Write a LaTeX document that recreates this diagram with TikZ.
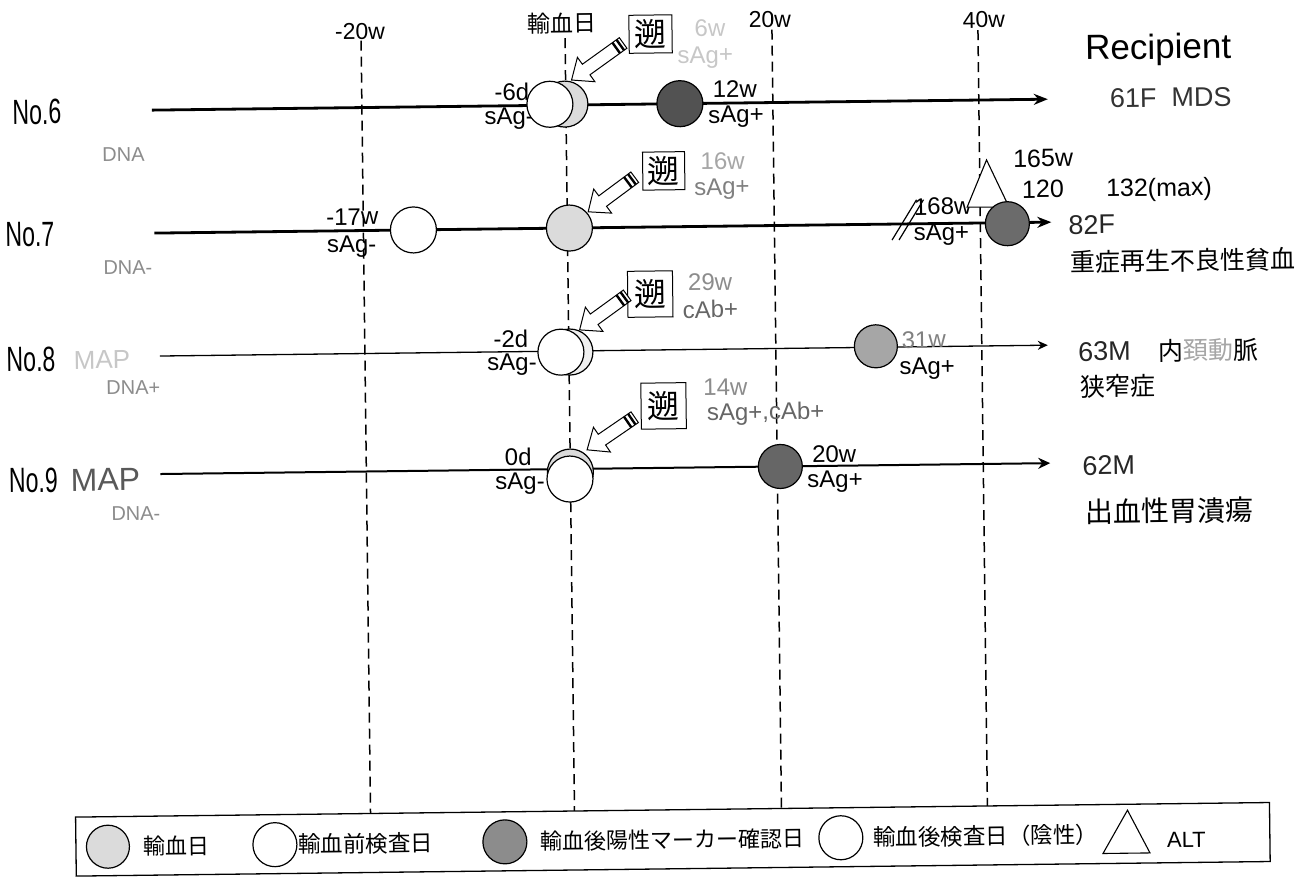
\documentclass[tikz,border=0pt]{standalone}
\usepackage{fontspec}
\usepackage{graphicx}
\setmainfont{Liberation Sans}
\newfontfamily\jp{Noto Sans CJK JP}
\usetikzlibrary{arrows.meta,calc}
\newcommand\fs[1]{\fontsize{#1}{#1}\selectfont}
\begin{document}
\begin{tikzpicture}[x=1pt,y=-1pt,
  vguide/.style={line width=1.5pt, dash pattern=on 10pt off 6pt},
  rowthick/.style={line width=2.8pt, -{Stealth[length=14pt,width=11pt]}},
  rowmid/.style={line width=2pt, -{Stealth[length=12pt,width=11pt]}},
  rowthin/.style={line width=1.3pt, -{Stealth[length=10pt,width=9pt]}},
  dotc/.style={circle, draw, line width=1.2pt, minimum size=46pt, inner sep=0pt},
  tdaycirc/.style={dotc, fill=gray!28},
  precirc/.style={dotc, fill=white},
  poscirc/.style={dotc, fill=black!62},
  lab/.style={inner sep=0pt, font=\fs{24}},
  faintlab/.style={lab, text=black!35},
  dnalab/.style={inner sep=0pt, font=\fs{20}, text=black!45},
  nolab/.style={inner sep=0pt},
  jbox/.style={draw, line width=1pt, inner sep=0pt, font=\jp\fs{32}, fill=white},
  jlab/.style={inner sep=0pt, font=\jp\fs{25}, anchor=west},
  pics/barr/.style={code={
    \draw[line width=1pt, fill=white] (0,-6.5) -- (#1-18,-6.5) -- (#1-18,-15) -- (#1,0)
      -- (#1-18,15) -- (#1-18,6.5) -- (0,6.5) -- cycle;
    \draw[line width=2.4pt] (3.5,-6.5) -- (3.5,6.5) (8.5,-6.5) -- (8.5,6.5);}}
]
\useasboundingbox (0,0) rectangle (1310,879);
\fill[white] (0,0) rectangle (1310,879);
\begin{scope}[rotate around={0.7:(655,440)}, transform shape]

% ---- vertical guides
\coordinate (gA1) at (366,37);  \coordinate (gA2) at (366,810);
\coordinate (gB1) at (570,37);  \coordinate (gB2) at (570,810);
\coordinate (gC1) at (777,15);  \coordinate (gC2) at (777,810);
\coordinate (gD1) at (983,34);  \coordinate (gD2) at (983,810);
\draw[vguide] (gA1) -- (gA2);
\draw[vguide] (gB1) -- (gB2);
\draw[vguide] (gC1) -- (gC2);
\draw[vguide] (gD1) -- (gD2);

\node[lab, font=\fs{23}] (tm20) at (365,28) {-20w};
\node[lab, font=\jp\fs{23}] (tday) at (567,22) {輸血日};
\node[lab, font=\fs{23}] (t20) at (775,21) {20w};
\node[lab, font=\fs{23}] (t40) at (989,24) {40w};

% ---- rows
\coordinate (r6s) at (156,104); \coordinate (r6e) at (1052,104);
\coordinate (r7s) at (157,227); \coordinate (r7e) at (1054,227);
\coordinate (r8s) at (161,350); \coordinate (r8e) at (1049,350);
\coordinate (r9s) at (160,468); \coordinate (r9e) at (1050,468);
\draw[rowthick] (r6s) -- (r6e);
\draw[rowthick] (r7s) -- (r7e);
\draw[rowthin] (r8s) -- (r8e);
\draw[rowmid] (r9s) -- (r9e);

% ---- left labels
\node[nolab] (n6) at (41,104.5) {\scalebox{0.66}[1]{\fs{35}No.6}};
\node[nolab] (n7) at (32.5,227) {\scalebox{0.66}[1]{\fs{35}No.7}};
\node[nolab] (n8) at (32,352) {\scalebox{0.66}[1]{\fs{35}No.8}};
\node[nolab] (n9) at (33,472.5) {\scalebox{0.66}[1]{\fs{35}No.9}};
\node[dnalab] (d6) at (127,148) {DNA};
\node[dnalab] (d7) at (130,261) {DNA-};
\node[inner sep=0pt, font=\fs{26}, text=black!22] (m8) at (103,353) {MAP};
\node[dnalab] (d8) at (134,381) {DNA+};
\node[inner sep=0pt, font=\fs{32}, text=black!65] (m9) at (105,473) {MAP};
\node[dnalab] (d9) at (135,507) {DNA-};

% ---- right labels
\node[inner sep=0pt, font=\fs{35}] (rec) at (1163,56) {Recipient};
\node[inner sep=0pt, font=\fs{27}, text=black!80] (p6) at (1175,104) {61F\ \ MDS};
\node[inner sep=0pt, font=\fs{27}, anchor=west, text=black!85] (p7a) at (1071,230) {82F};
\node[jlab] (p7b) at (1072,267) {重症再生不良性貧血};
\node[inner sep=0pt, font=\fs{27}, anchor=west, text=black!85] (p8a) at (1079,357) {63M};
\node[jlab] (p8b) at (1159,357) {内\textcolor{black!35}{頚動}脈};
\node[jlab] (p8c) at (1081,392) {狭窄症};
\node[inner sep=0pt, font=\fs{27}, anchor=west, text=black!85] (p9a) at (1082,471) {62M};
\node[jlab, font=\jp\fs{28}] (p9b) at (1084,517) {出血性胃潰瘍};

% ---- point labels
\node[lab] (l6a) at (516,90) {-6d};
\node[lab, anchor=east] (l6b) at (538,117) {sAg-};
\node[lab] (l6c) at (739,90) {12w};
\node[lab] (l6d) at (740,118) {sAg+};
\node[lab, text=black!22] (l6e) at (715,29) {6w};
\node[lab, text=black!22] (l6f) at (710,58) {sAg+};

\node[lab] (l7a) at (355,213) {-17w};
\node[lab] (l7b) at (354,243) {sAg-};
\node[faintlab] (l7c) at (726,162) {16w};
\node[lab, text=black!50] (l7d) at (725,190) {sAg+};
\node[lab] (l7e) at (945.5,210) {168w};
\node[lab] (l7f) at (944,238) {sAg+};
\node[lab, font=\fs{25}] (l7g) at (1046.5,163) {165w};
\node[lab, font=\fs{25}] (l7h) at (1046,194) {120};
\node[lab, font=\fs{25}] (l7i) at (1162,196) {132(max)};
\coordinate (s1a) at (894.5,243); \coordinate (s1b) at (919.5,203);
\coordinate (s2a) at (901.5,243); \coordinate (s2b) at (926.5,203);
\draw[line width=1.2pt] (s1a) -- (s1b) (s2a) -- (s2b);

\node[lab] (l8a) at (512,337) {-2d};
\node[lab] (l8b) at (513,363) {sAg-};
\node[lab, text=black!45] (l8c) at (712,283) {29w};
\node[lab, text=black!60] (l8d) at (712,310) {cAb+};
\node[lab, text=black!50] (l8e) at (925,343) {31w};
\node[lab] (l8f) at (928,372) {sAg+};

\node[lab] (l9a) at (518,455) {0d};
\node[lab] (l9b) at (519.5,482) {sAg-};
\node[lab, text=black!45] (l9c) at (726,388) {14w};
\node[lab, text=black!60] (l9d) at (766,415) {sAg+,cAb+};
\node[lab] (l9e) at (834,456) {20w};
\node[lab] (l9f) at (834.5,484) {sAg+};

% ---- circles
\node[tdaycirc] (c6t) at (569,103) {};
\node[precirc] (c6p) at (554,103) {};
\node[poscirc, fill=black!68] (c6d) at (684,104) {};

\node[precirc] (c7p) at (416,227) {};
\node[tdaycirc] (c7t) at (572,227) {};
\coordinate (tri7a) at (990,164); \coordinate (tri7b) at (970,211); \coordinate (tri7c) at (1012,211.5);
\draw[line width=1.1pt, fill=white] (tri7a) -- (tri7b) -- (tri7c) -- cycle;
\node[poscirc, fill=black!58, minimum size=44pt] (c7d) at (1010,228) {};

\node[dotc, fill=gray!12] (c8t) at (571,351) {};
\node[precirc] (c8p) at (562,351) {};
\node[poscirc, fill=black!35, minimum size=43pt] (c8g) at (877,349) {};

\node[tdaycirc] (c9t) at (570,471) {};
\node[precirc] (c9p) at (569.5,478) {};
\node[poscirc, fill=black!60, minimum size=44pt] (c9d) at (780,468) {};

% ---- retro boxes and arrows
\node[jbox, minimum width=43pt, minimum height=38pt] (b6) at (655.5,34) {遡};
\node[jbox, minimum width=42pt, minimum height=38pt] (b7) at (667,171) {遡};
\node[jbox, minimum width=45pt, minimum height=46pt] (b8) at (652,294) {遡};
\node[jbox, minimum width=45pt, minimum height=46pt] (b9) at (664,406) {遡};
\coordinate (a6t) at (628,42.6);
\coordinate (a7t) at (638,177);
\coordinate (a8t) at (629,295);
\coordinate (a9t) at (635,417);
\pic[rotate=215.0] at (a6t) {barr=63.5};
\pic[rotate=215.9] at (a7t) {barr=58};
\pic[rotate=215.3] at (a8t) {barr=58.8};
\pic[rotate=213.7] at (a9t) {barr=57.7};

% ---- legend
\node[draw, line width=1.3pt, minimum width=1194pt, minimum height=59pt, inner sep=0pt] (leg) at (668,839.5) {};
\node[dotc, fill=gray!28, minimum size=43pt] (lg1) at (103,840) {};
\node[jlab, font=\jp\fs{22}] (lg1t) at (138,840) {輸血日};
\node[dotc, fill=white, minimum size=44pt] (lg2) at (270,840) {};
\node[jlab, font=\jp\fs{22.5}] (lg2t) at (293,840) {輸血前検査日};
\node[dotc, fill=black!45, minimum size=44pt] (lg3) at (500,840) {};
\node[jlab, font=\jp\fs{22}] (lg3t) at (535,840) {輸血後陽性マーカー確認日};
\node[dotc, fill=white, minimum size=44pt] (lg4) at (836,840) {};
\node[jlab, font=\jp\fs{22.5}] (lg4t) at (868,840) {輸血後検査日（陰性）};
\coordinate (lt1) at (1098,859); \coordinate (lt2) at (1145,859); \coordinate (lt3) at (1123,816);
\draw[line width=1.1pt] (lt1) -- (lt2) -- (lt3) -- cycle;
\node[lab, font=\fs{22}, anchor=west] (lg5t) at (1162,846) {ALT};
\end{scope}
\end{tikzpicture}
\end{document}
